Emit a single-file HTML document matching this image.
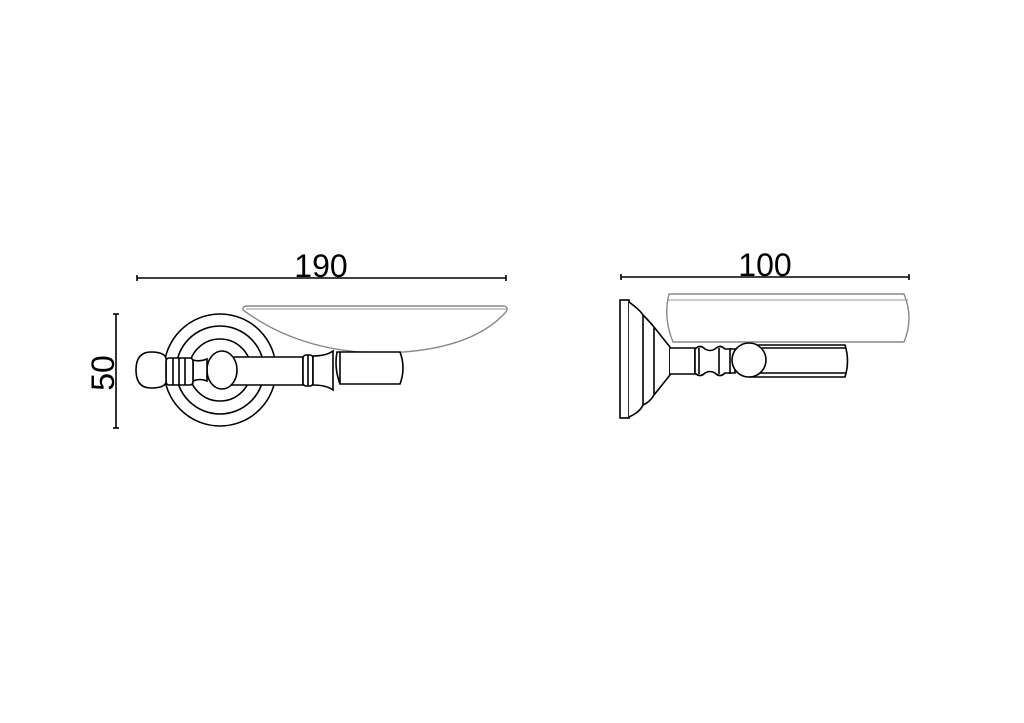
<!DOCTYPE html>
<html><head><style>html,body{margin:0;padding:0;background:#fff}svg{display:block}</style></head>
<body>
<svg width="1024" height="723" viewBox="0 0 1024 723" xmlns="http://www.w3.org/2000/svg">
<rect width="1024" height="723" fill="#fff"/>
<g fill="none" stroke="#000" stroke-width="1.6">
<line x1="137" y1="278" x2="506" y2="278"/>
<line x1="137" y1="275" x2="137" y2="281"/><line x1="506" y1="275" x2="506" y2="281"/>
<line x1="116" y1="314" x2="116" y2="428"/>
<line x1="113" y1="314" x2="119" y2="314"/><line x1="113" y1="428" x2="119" y2="428"/>
<path d="M243 310 Q242 306 248 306 L504 306 Q509 307 506 312 Q470 352 380 353 Q300 352 243 310 Z" stroke="#888" stroke-width="1.4"/>
<line x1="246" y1="309" x2="506" y2="309" stroke="#999" stroke-width="1"/>
<circle cx="220" cy="370" r="56" fill="#fff"/>
<circle cx="220" cy="370" r="44"/>
<circle cx="220" cy="370" r="31"/>
<path d="M230 357 L303 357 L303 385 L230 385" fill="#fff"/>
<rect x="303" y="355" width="10" height="31" rx="3" fill="#fff"/>
<line x1="308" y1="355" x2="308" y2="386"/>
<path d="M313 356 Q326 356 333 351 L333 390 Q326 385 313 385 Z" fill="#fff"/>
<path d="M337 352 L400 352 Q406 368 400 384 L340 384 Q334 368 337 352 Z" fill="#fff"/>
<line x1="340" y1="352" x2="340" y2="384"/>
<ellipse cx="222" cy="370" rx="15" ry="19" fill="#fff"/>
<path d="M193 360 Q200 362 207 359 L207 381 Q200 378 193 381 Z" fill="#fff"/>
<rect x="166" y="358" width="27" height="27" rx="3" fill="#fff"/>
<line x1="173" y1="358" x2="173" y2="385"/><line x1="179" y1="358" x2="179" y2="385"/><line x1="185" y1="358" x2="185" y2="385"/>
<path d="M166 362 Q168 352 151 352 Q136 352 136 370 Q136 388 151 388 Q168 388 166 379 Z" fill="#fff"/>
<line x1="621" y1="277" x2="909" y2="277"/>
<line x1="621" y1="274" x2="621" y2="280"/><line x1="909" y1="274" x2="909" y2="280"/>
<path d="M669 294 L904 294 Q914 318 904 342 L673 342 Q663 318 669 294 Z" stroke="#888" stroke-width="1.4"/>
<line x1="668" y1="300" x2="908" y2="300" stroke="#999" stroke-width="1"/>
<rect x="620" y="300" width="9" height="118"/>
<path d="M629 302 Q640 310 643 315 Q650 322 654 327 L670 347 L670 375 L654 395 Q650 402 643 405 Q640 412 629 417" fill="#fff"/>
<line x1="643" y1="315" x2="643" y2="405"/>
<line x1="654" y1="327" x2="654" y2="395"/>
<line x1="670" y1="347" x2="670" y2="375"/>
<path d="M670 348 L695 348 L695 374 L670 374" fill="#fff"/>
<path d="M695 349 Q700 344 705 349 Q710 352 715 349 Q720 344 725 349 L735 349 L735 373 L725 373 Q720 378 715 373 Q710 370 705 373 Q700 378 695 373 Z" fill="#fff"/>
<line x1="699" y1="348" x2="699" y2="374"/><line x1="719" y1="348" x2="719" y2="374"/><line x1="730" y1="348" x2="730" y2="374"/>
<path d="M750 345 L845 345 Q850 361 845 377 L750 377 Z" fill="#fff"/>
<line x1="760" y1="348" x2="846" y2="348"/><line x1="760" y1="373" x2="846" y2="373"/>
<circle cx="749" cy="360" r="17" fill="#fff"/>
</g>
<g font-family="Liberation Sans, sans-serif" font-size="32" fill="#000" text-anchor="middle">
<text x="321" y="277">190</text>
<text x="765" y="276">100</text>
<text x="0" y="0" transform="translate(114 373) rotate(-90)">50</text>
</g>
</svg>
</body></html>
